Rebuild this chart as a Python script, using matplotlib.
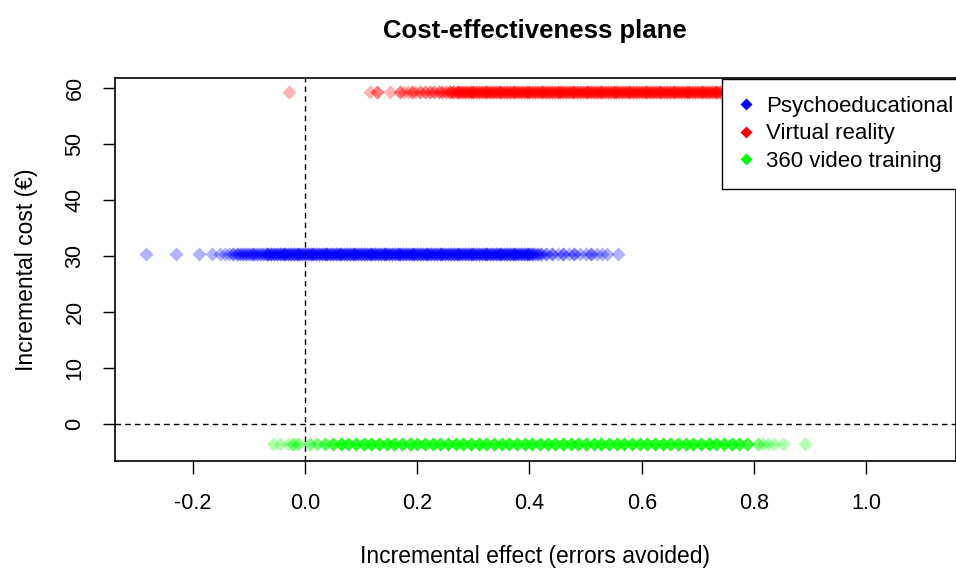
import numpy as np
import matplotlib.pyplot as plt
from matplotlib.lines import Line2D

plt.rcParams['font.family'] = ['Liberation Sans', 'DejaVu Sans']

# Cost-effectiveness plane: incremental effect vs incremental cost per strategy
labels = ["Psychoeducational", "Virtual reality", "360 video training"]
colors = ["#0000ff", "#ff0000", "#00ff00"]
costs = [30.4, 59.2, -3.6]

# simulated effects, with how many draws sit on each spot
psy_x = [-0.284, -0.229, -0.188, -0.166, -0.152, -0.143, -0.136, -0.128, -0.122,
         -0.115, -0.110, -0.105, -0.100, -0.095, -0.090, -0.085, -0.080, -0.075, -0.070,
         -0.065, -0.060, -0.055, -0.050, -0.045, -0.040, -0.035, -0.030, -0.025, -0.020,
         -0.015, -0.010, -0.005, 0.000, 0.005, 0.010, 0.015, 0.020, 0.025, 0.030,
         0.035, 0.040, 0.045, 0.050, 0.055, 0.060, 0.065, 0.070, 0.075, 0.080,
         0.085, 0.090, 0.095, 0.100, 0.105, 0.110, 0.115, 0.120, 0.125, 0.130,
         0.135, 0.140, 0.145, 0.150, 0.155, 0.160, 0.165, 0.170, 0.175, 0.180,
         0.185, 0.190, 0.195, 0.200, 0.205, 0.210, 0.215, 0.220, 0.225, 0.230,
         0.235, 0.240, 0.245, 0.250, 0.255, 0.260, 0.265, 0.270, 0.275, 0.280,
         0.285, 0.290, 0.295, 0.300, 0.305, 0.310, 0.315, 0.320, 0.325, 0.330,
         0.335, 0.340, 0.345, 0.350, 0.355, 0.360, 0.365, 0.370, 0.375, 0.380,
         0.385, 0.390, 0.395, 0.400, 0.405, 0.410, 0.415, 0.420,
         0.43, 0.44, 0.45, 0.46, 0.47, 0.48, 0.49, 0.50, 0.51, 0.52, 0.53, 0.539, 0.557]
psy_n = [1, 1, 1, 1, 1, 1, 1, 2, 2,
         2, 2, 2, 2, 2, 2, 2, 2, 2, 2,
         3, 3, 3, 3, 3, 3, 3, 3, 3, 3,
         3, 3, 3, 3, 3, 3, 3, 3, 3, 3,
         3, 3, 3, 3, 3, 3, 3, 3, 3, 3,
         3, 3, 3, 3, 3, 3, 3, 3, 3, 3,
         3, 3, 3, 3, 3, 3, 3, 3, 3, 3,
         3, 3, 3, 3, 3, 3, 3, 3, 3, 3,
         3, 3, 3, 3, 3, 3, 3, 3, 3, 3,
         3, 3, 3, 3, 3, 3, 3, 3, 3, 3,
         3, 3, 3, 3, 3, 3, 3, 3, 3, 3,
         3, 3, 3, 3, 3, 2, 2, 2,
         2, 2, 1, 2, 1, 2, 1, 1, 2, 1, 1, 1, 1]

vr_x = [-0.029, 0.116, 0.129, 0.152, 0.170, 0.176, 0.184, 0.191, 0.196, 0.205,
        0.214, 0.222, 0.230, 0.238, 0.245, 0.252, 0.258, 0.264, 0.270,
        0.275, 0.280, 0.285, 0.290, 0.295, 0.300, 0.305, 0.310, 0.315, 0.320,
        0.325, 0.330, 0.335, 0.340, 0.345, 0.350, 0.355, 0.360, 0.365, 0.370,
        0.375, 0.380, 0.385, 0.390, 0.395, 0.400, 0.405, 0.410, 0.415, 0.420,
        0.425, 0.430, 0.435, 0.440, 0.445, 0.450, 0.455, 0.460, 0.465, 0.470,
        0.475, 0.480, 0.485, 0.490, 0.495, 0.500, 0.505, 0.510, 0.515, 0.520,
        0.525, 0.530, 0.535, 0.540, 0.545, 0.550, 0.555, 0.560, 0.565, 0.570,
        0.575, 0.580, 0.585, 0.590, 0.595, 0.600, 0.605, 0.610, 0.615, 0.620,
        0.625, 0.630, 0.635, 0.640, 0.645, 0.650, 0.655, 0.660, 0.665, 0.670,
        0.675, 0.680, 0.685, 0.690, 0.695, 0.700, 0.705, 0.710, 0.715, 0.720,
        0.725, 0.730, 0.735, 0.740]
vr_n = [1, 1, 2, 1, 2, 1, 1, 2, 1, 2,
        2, 2, 2, 2, 2, 2, 3, 3, 3,
        3, 3, 3, 3, 3, 3, 3, 3, 3, 3,
        3, 3, 3, 3, 3, 3, 3, 3, 3, 3,
        3, 3, 3, 3, 3, 3, 3, 3, 3, 3,
        3, 3, 3, 3, 3, 3, 3, 3, 3, 3,
        3, 3, 3, 3, 3, 3, 3, 3, 3, 3,
        3, 3, 3, 3, 3, 3, 3, 3, 3, 3,
        3, 3, 3, 3, 3, 3, 3, 3, 3, 3,
        3, 3, 3, 3, 3, 3, 3, 3, 3, 3,
        3, 3, 3, 3, 3, 3, 3, 3, 3, 3,
        3, 3, 3, 3]

vid_x = [-0.057, -0.045, -0.030, -0.021, -0.012, 0.009, 0.021, 0.036, 0.050,
         0.064, 0.077, 0.091, 0.105, 0.118, 0.132, 0.146, 0.159, 0.173, 0.187,
         0.200, 0.214, 0.228, 0.241, 0.255, 0.269, 0.282, 0.296, 0.310, 0.323,
         0.337, 0.351, 0.364, 0.378, 0.392, 0.405, 0.419, 0.433, 0.446, 0.460,
         0.474, 0.487, 0.501, 0.515, 0.528, 0.542, 0.556, 0.569, 0.583, 0.597,
         0.610, 0.624, 0.638, 0.651, 0.665, 0.679, 0.692, 0.706, 0.720, 0.733,
         0.747, 0.761, 0.774, 0.788, 0.807, 0.816, 0.825, 0.836, 0.852, 0.891]
vid_n = [1, 1, 1, 2, 2, 2, 2, 3, 4,
         5, 5, 5, 5, 5, 5, 5, 5, 5, 5,
         5, 5, 5, 5, 5, 5, 5, 5, 5, 5,
         5, 5, 5, 5, 5, 5, 5, 5, 5, 5,
         5, 5, 5, 5, 5, 5, 5, 5, 5, 5,
         5, 5, 5, 5, 5, 5, 5, 5, 5, 5,
         5, 5, 4, 4, 2, 1, 1, 1, 1, 1]

xticks = [-0.2, 0.0, 0.2, 0.4, 0.6, 0.8, 1.0]
yticks = [0, 10, 20, 30, 40, 50, 60]

fig = plt.figure(figsize=(9.56, 5.68), dpi=100)
ax = fig.add_axes([0.120, 0.188, 0.88, 0.675])

for xs, ns, c, col in zip([psy_x, vr_x, vid_x], [psy_n, vr_n, vid_n], costs, colors):
    xx = np.repeat(xs, ns)
    ax.plot(xx, np.full(len(xx), c), ls='none', marker='D', ms=7,
            mec='none', mfc=col, alpha=0.3)

ax.axvline(0, color='black', ls=(0, (4, 3)), lw=1)
ax.axhline(0, color='black', ls=(0, (4, 3)), lw=1)

ax.set_xlim(-0.339, 1.16)
ax.set_ylim(-6.6, 61.8)
ax.set_xticks(xticks)
ax.set_xticklabels([f"{t:.1f}" for t in xticks])
ax.set_yticks(yticks)
ax.set_yticklabels([str(t) for t in yticks], rotation=90, va='center')
ax.tick_params(axis='both', length=9, width=1, labelsize=15.5)
ax.tick_params(axis='x', pad=14)
ax.tick_params(axis='y', pad=12)
for s in ax.spines.values():
    s.set_linewidth(1.2)

ax.set_xlabel("Incremental effect (errors avoided)", fontsize=16.5, labelpad=22)
ax.set_ylabel("Incremental cost (€)", fontsize=16.5, labelpad=19)
ax.set_title("Cost-effectiveness plane", fontsize=18.5, fontweight='bold', pad=29)

handles = [Line2D([], [], ls='none', marker='D', ms=6, mec='none', mfc=col)
           for col in colors]
leg = fig.legend(handles, labels, loc='upper left', bbox_to_anchor=(0.755, 0.861),
                 fontsize=16, frameon=True, fancybox=False, edgecolor='black',
                 framealpha=1, handlelength=0.7, handletextpad=0.55,
                 labelspacing=0.3, borderpad=0.75, borderaxespad=0)
leg.get_frame().set_linewidth(1)

fig.savefig("out.png", dpi=100)
